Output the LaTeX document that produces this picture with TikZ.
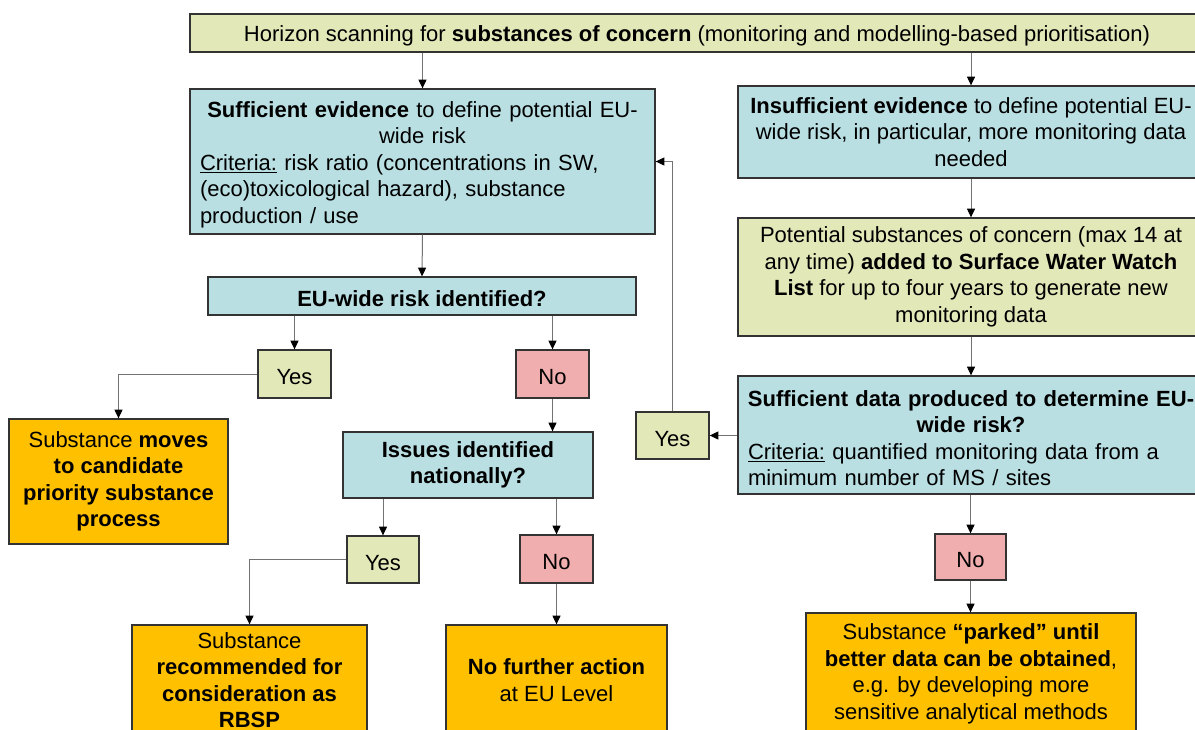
\documentclass[tikz,border=0pt]{standalone}
\usepackage{fontspec}
\setmainfont{Liberation Sans}
\usepackage{xcolor}
\usetikzlibrary{arrows.meta,calc}
\definecolor{boxyellow}{RGB}{226,232,184}
\definecolor{boxblue}{RGB}{185,223,227}
\definecolor{boxorange}{RGB}{255,192,0}
\definecolor{boxpink}{RGB}{240,174,174}
\newcommand{\boxstrut}{\rule{0pt}{16.5pt}}
\tikzset{
  flowbox/.style={draw=black!80, line width=1pt, inner xsep=7.5pt, inner ysep=2pt,
    font=\fontsize{16.5}{19.9}\selectfont, execute at begin node=\boxstrut},
  yellowbox/.style={flowbox, fill=boxyellow},
  bluebox/.style={flowbox, fill=boxblue},
  orangebox/.style={flowbox, fill=boxorange},
  pinkbox/.style={flowbox, fill=boxpink},
  flowarrow/.style={draw=black!55, line width=0.75pt, -{Triangle[length=6.5pt,width=6pt,color=black]}},
}

\begin{document}
\begin{tikzpicture}[x=0.75pt,y=0.75pt,yscale=-1,xscale=1]
\useasboundingbox (0,0) rectangle (1195,729);
\clip (0,0) rectangle (1195,729);

% Text Node
\node (scan) at (697,33) [yellowbox, minimum width=760.5pt, minimum height=28.5pt]
  {Horizon scanning for \textbf{substances of concern} (monitoring and modelling-based prioritisation)};
% Text Node
\node (suffev) at (422.5,161.5) [bluebox, minimum width=348.75pt, minimum height=108.75pt, text width=333.75pt]
  {\centering\textbf{Sufficient evidence} to define potential EU-\\wide risk\par
   \raggedright\underline{Criteria:} risk ratio (concentrations in SW,\\(eco)toxicological hazard), substance\\production / use\par};
% Text Node
\node (insuff) at (971,132) [bluebox, minimum width=349.5pt, minimum height=69pt, align=center]
  {\textbf{Insufficient evidence} to define potential EU-\\wide risk, in particular, more monitoring data\\needed};
% Text Node
\node (watch) at (971,277) [yellowbox, minimum width=349.5pt, minimum height=88.5pt, align=center]
  {Potential substances of concern (max 14 at\\any time) \textbf{added to Surface Water Watch}\\\textbf{List} for up to four years to generate new\\monitoring data};
% Text Node
\node (suffdata) at (971,435) [bluebox, minimum width=349.5pt, minimum height=88.5pt, text width=334.5pt]
  {\makebox[\linewidth][c]{\textbf{Sufficient data produced to determine EU-}}\\
   \makebox[\linewidth][c]{\textbf{wide risk?}}\par
   \raggedright\underline{Criteria:} quantified monitoring data from a\\minimum number of MS / sites\par};
% Text Node
\node (yesdata) at (672.5,435.5) [yellowbox, minimum width=54.75pt, minimum height=35.25pt] {Yes};
% Text Node
\node (nodata) at (970.5,557) [pinkbox, minimum width=53.25pt, minimum height=34.5pt] {No};
% Text Node
\node (parked) at (971,674) [orangebox, minimum width=247.5pt, minimum height=91.5pt, align=center]
  {Substance \textbf{“parked” until}\\\textbf{better data can be obtained},\\e.g. by developing more\\sensitive analytical methods};
% Text Node
\node (risk) at (422,296) [bluebox, minimum width=321pt, minimum height=28.5pt]
  {\textbf{EU-wide risk identified?}};
% Text Node
\node (yesrisk) at (294.5,374) [yellowbox, minimum width=54.75pt, minimum height=36pt] {Yes};
% Text Node
\node (norisk) at (552.5,374) [pinkbox, minimum width=54.75pt, minimum height=36pt] {No};
% Text Node
\node (moves) at (118.5,481.5) [orangebox, minimum width=164.25pt, minimum height=93.75pt, align=center]
  {Substance \textbf{moves}\\\textbf{to candidate}\\\textbf{priority substance}\\\textbf{process}};
% Text Node
\node (issues) at (468,465) [bluebox, minimum width=187.5pt, minimum height=49.5pt, align=center]
  {\textbf{Issues identified}\\\textbf{nationally?}};
% Text Node
\node (yesnat) at (383,559.5) [yellowbox, minimum width=54pt, minimum height=35.25pt] {Yes};
% Text Node
\node (nonat) at (556.5,559) [pinkbox, minimum width=54.75pt, minimum height=36pt] {No};
% Text Node
\node (rbsp) at (249.5,680) [orangebox, minimum width=176.25pt, minimum height=82.5pt, align=center]
  {Substance\\\textbf{recommended for}\\\textbf{consideration as}\\\textbf{RBSP}};
% Text Node
\node (noaction) at (556.5,680) [orangebox, minimum width=165.75pt, minimum height=82.5pt, align=center]
  {\textbf{No further action}\\at EU Level};

%Straight Lines
\draw [flowarrow] (scan.south -| suffev) -- (suffev.north);
\draw [flowarrow] (scan.south -| insuff) -- (insuff.north);
\draw [flowarrow] (insuff.south) -- (watch.north);
\draw [flowarrow] (watch.south) -- (suffdata.north);
\draw [flowarrow] (suffdata.west |- yesdata.east) -- (yesdata.east);
\draw [flowarrow] (yesdata.north) |- (suffev.east);
\draw [flowarrow] (suffdata.south -| nodata) -- (nodata.north);
\draw [flowarrow] (nodata.south) -- (nodata.south |- parked.north);
\draw [flowarrow] (suffev.south) -- (risk.north);
\draw [flowarrow] (yesrisk.north |- risk.south) -- (yesrisk.north);
\draw [flowarrow] (norisk.north |- risk.south) -- (norisk.north);
\draw [flowarrow] (yesrisk.west) -| (moves.north);
\draw [flowarrow] (norisk.south) -- (norisk.south |- issues.north);
\draw [flowarrow] (yesnat.north |- issues.south) -- (yesnat.north);
\draw [flowarrow] (nonat.north |- issues.south) -- (nonat.north);
\draw [flowarrow] (yesnat.west) -| (rbsp.north);
\draw [flowarrow] (nonat.south) -- (nonat.south |- noaction.north);

\end{tikzpicture}
\end{document}
